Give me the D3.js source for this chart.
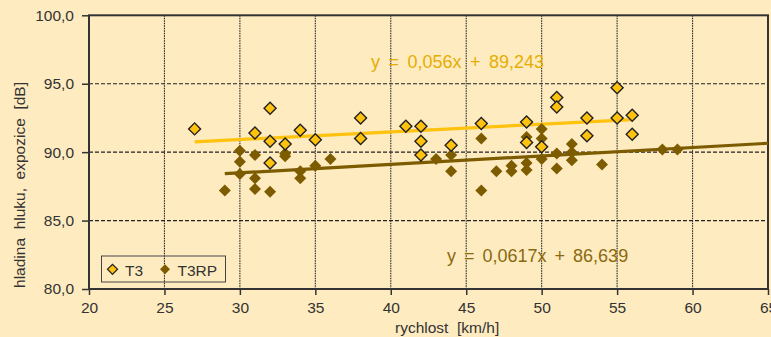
<!DOCTYPE html>
<html>
<head>
<meta charset="utf-8">
<script src="https://cdn.jsdelivr.net/npm/d3@7"></script>
<style>
  html, body { margin: 0; padding: 0; background: #feebc0; }
  svg { display: block; font-family: "Liberation Sans", Arial, sans-serif; }
</style>
</head>
<body>
<svg id="chart" width="771" height="337"></svg>
<script>
// T3 measurements (speed, level)
const t3Speed = [27, 31, 32, 32, 32, 33, 34, 35, 38, 38, 41, 42, 42, 42, 44, 46, 49, 49, 50, 51, 51, 53, 53, 55, 55, 56, 56];
const t3Level = [91.7, 91.4, 93.2, 90.8, 89.2, 90.6, 91.6, 90.9, 92.5, 91.0, 91.9, 91.9, 90.8, 89.8, 90.5, 92.1, 92.2, 90.7, 90.4, 94.0, 93.3, 92.5, 91.2, 94.7, 92.5, 92.7, 91.3];

// T3RP measurements
const t3rpSpeed = [29, 30, 30, 30, 31, 31, 31, 32, 33, 33, 34, 34, 35, 36, 43, 44, 44, 46, 46, 47, 48, 48, 49, 49, 49, 50, 50, 50, 51, 51, 52, 52, 52, 54, 58, 59];
const t3rpLevel = [87.2, 90.1, 89.3, 88.4, 89.8, 88.1, 87.3, 87.1, 89.9, 89.7, 88.6, 88.1, 89.0, 89.5, 89.5, 89.8, 88.6, 91.0, 87.2, 88.6, 89.0, 88.6, 91.1, 89.2, 88.7, 91.7, 91.0, 89.5, 89.9, 88.8, 90.6, 90.0, 89.4, 89.1, 90.2, 90.2];

// linear trends: [T3, T3RP]
const trendSlope = [0.056, 0.0617];
const trendIntercept = [89.243, 86.639];
const trendFrom = [27, 29];
const trendTo = [56, 65];
const trendLabels = ["y = 0,056x + 89,243", "y = 0,0617x + 86,639"];

const seriesNames = ["T3", "T3RP"];
const xTicks = [20, 25, 30, 35, 40, 45, 50, 55, 60, 65];
const yTicks = [80, 85, 90, 95, 100];

const colYellow = "#ffc20e";
const colOlive = "#7d5c00";
const colInk = "#333";

const svg = d3.select("#chart");

const xAxis = d3.scaleLinear().domain([20, 65]).range([89, 768]);
const yAxis = d3.scaleLinear().domain([80, 100]).range([289, 15.3]);

// grid
svg.append("g").selectAll("line")
    .data(xTicks.slice(1, -1))
    .enter().append("line")
    .attr("x1", d => xAxis(d)).attr("x2", d => xAxis(d))
    .attr("y1", yAxis(100)).attr("y2", yAxis(80))
    .attr("stroke", "#222").attr("stroke-width", 1.1)
    .attr("stroke-dasharray", "1.5,1");

svg.append("g").selectAll("line")
    .data(yTicks.slice(1, -1))
    .enter().append("line")
    .attr("x1", xAxis(20)).attr("x2", xAxis(65))
    .attr("y1", d => yAxis(d)).attr("y2", d => yAxis(d))
    .attr("stroke", "#222").attr("stroke-width", 1.1)
    .attr("stroke-dasharray", "4,2");

// axes
let fmt = d => d.toFixed(1).replace(".", ",");

let gy = svg.append("g")
    .attr("transform", "translate(89, 0)")
    .call(d3.axisLeft(yAxis).tickValues(yTicks).tickFormat(fmt).tickSize(7).tickPadding(8));
let gx = svg.append("g")
    .attr("transform", "translate(0, 289)")
    .call(d3.axisBottom(xAxis).tickValues(xTicks).tickSize(6).tickPadding(7));

[gy, gx].forEach(g => {
    g.select(".domain").remove();
    g.selectAll("line").attr("stroke", colInk).attr("stroke-width", 1.5);
    g.selectAll("text").attr("fill", colInk).style("font-size", "15.5px").style("font-family", "'Liberation Sans', Arial, sans-serif");
});

// frame
svg.append("rect")
    .attr("x", xAxis(20)).attr("y", yAxis(100))
    .attr("width", xAxis(65) - xAxis(20)).attr("height", yAxis(80) - yAxis(100))
    .attr("fill", "none").attr("stroke", colInk).attr("stroke-width", 2);

// trend lines
let trendColors = [colYellow, colOlive];
trendSlope.forEach((k, i) => {
    svg.append("line")
        .attr("x1", xAxis(trendFrom[i])).attr("y1", yAxis(k * trendFrom[i] + trendIntercept[i]))
        .attr("x2", xAxis(trendTo[i])).attr("y2", yAxis(k * trendTo[i] + trendIntercept[i]))
        .attr("stroke", trendColors[i]).attr("stroke-width", 3.2);
});

// markers
let diamond = d3.symbol().type(d3.symbolSquare).size(72);

svg.append("g").selectAll("path")
    .data(d3.zip(t3rpSpeed, t3rpLevel))
    .enter().append("path")
    .attr("d", diamond)
    .attr("transform", d => `translate(${xAxis(d[0])}, ${yAxis(d[1])}) rotate(45)`)
    .attr("fill", colOlive);

svg.append("g").selectAll("path")
    .data(d3.zip(t3Speed, t3Level))
    .enter().append("path")
    .attr("d", diamond)
    .attr("transform", d => `translate(${xAxis(d[0])}, ${yAxis(d[1])}) rotate(45)`)
    .attr("fill", colYellow).attr("stroke", "#222").attr("stroke-width", 1.4);

// equations
svg.append("text")
    .attr("x", 371).attr("y", 67.5)
    .attr("fill", "#e6ae00").style("font-size", "18px").style("word-spacing", "3.5px")
    .text(trendLabels[0]);
svg.append("text")
    .attr("x", 447).attr("y", 262)
    .attr("fill", "#8a6a10").style("font-size", "18px").style("word-spacing", "3px")
    .text(trendLabels[1]);

// axis titles
svg.append("text")
    .attr("x", 395).attr("y", 333)
    .attr("fill", colInk).style("font-size", "15.5px").style("white-space", "pre")
    .text("rychlost  [km/h]");
svg.append("text")
    .attr("transform", "translate(25, 185) rotate(-90)")
    .attr("text-anchor", "middle")
    .attr("fill", colInk).style("font-size", "15.5px").style("white-space", "pre")
    .text("hladina  hluku,  expozice  [dB]");

// legend
let legend = svg.append("g");
legend.append("rect")
    .attr("x", 101.5).attr("y", 256).attr("width", 124).attr("height", 26)
    .attr("fill", "none").attr("stroke", "#444").attr("stroke-width", 1);
let legendSymbol = d3.symbol().type(d3.symbolSquare).size(50);
legend.append("path").attr("d", legendSymbol)
    .attr("transform", "translate(112.5, 269.3) rotate(45)")
    .attr("fill", colYellow).attr("stroke", "#222").attr("stroke-width", 1.2);
legend.append("path").attr("d", legendSymbol)
    .attr("transform", "translate(165, 269.3) rotate(45)")
    .attr("fill", colOlive);
legend.append("text").attr("x", 125).attr("y", 275.5)
    .attr("fill", colInk).style("font-size", "15.5px").text(seriesNames[0]);
legend.append("text").attr("x", 177.5).attr("y", 275.5)
    .attr("fill", colInk).style("font-size", "15.5px").text(seriesNames[1]);
</script>
</body>
</html>
